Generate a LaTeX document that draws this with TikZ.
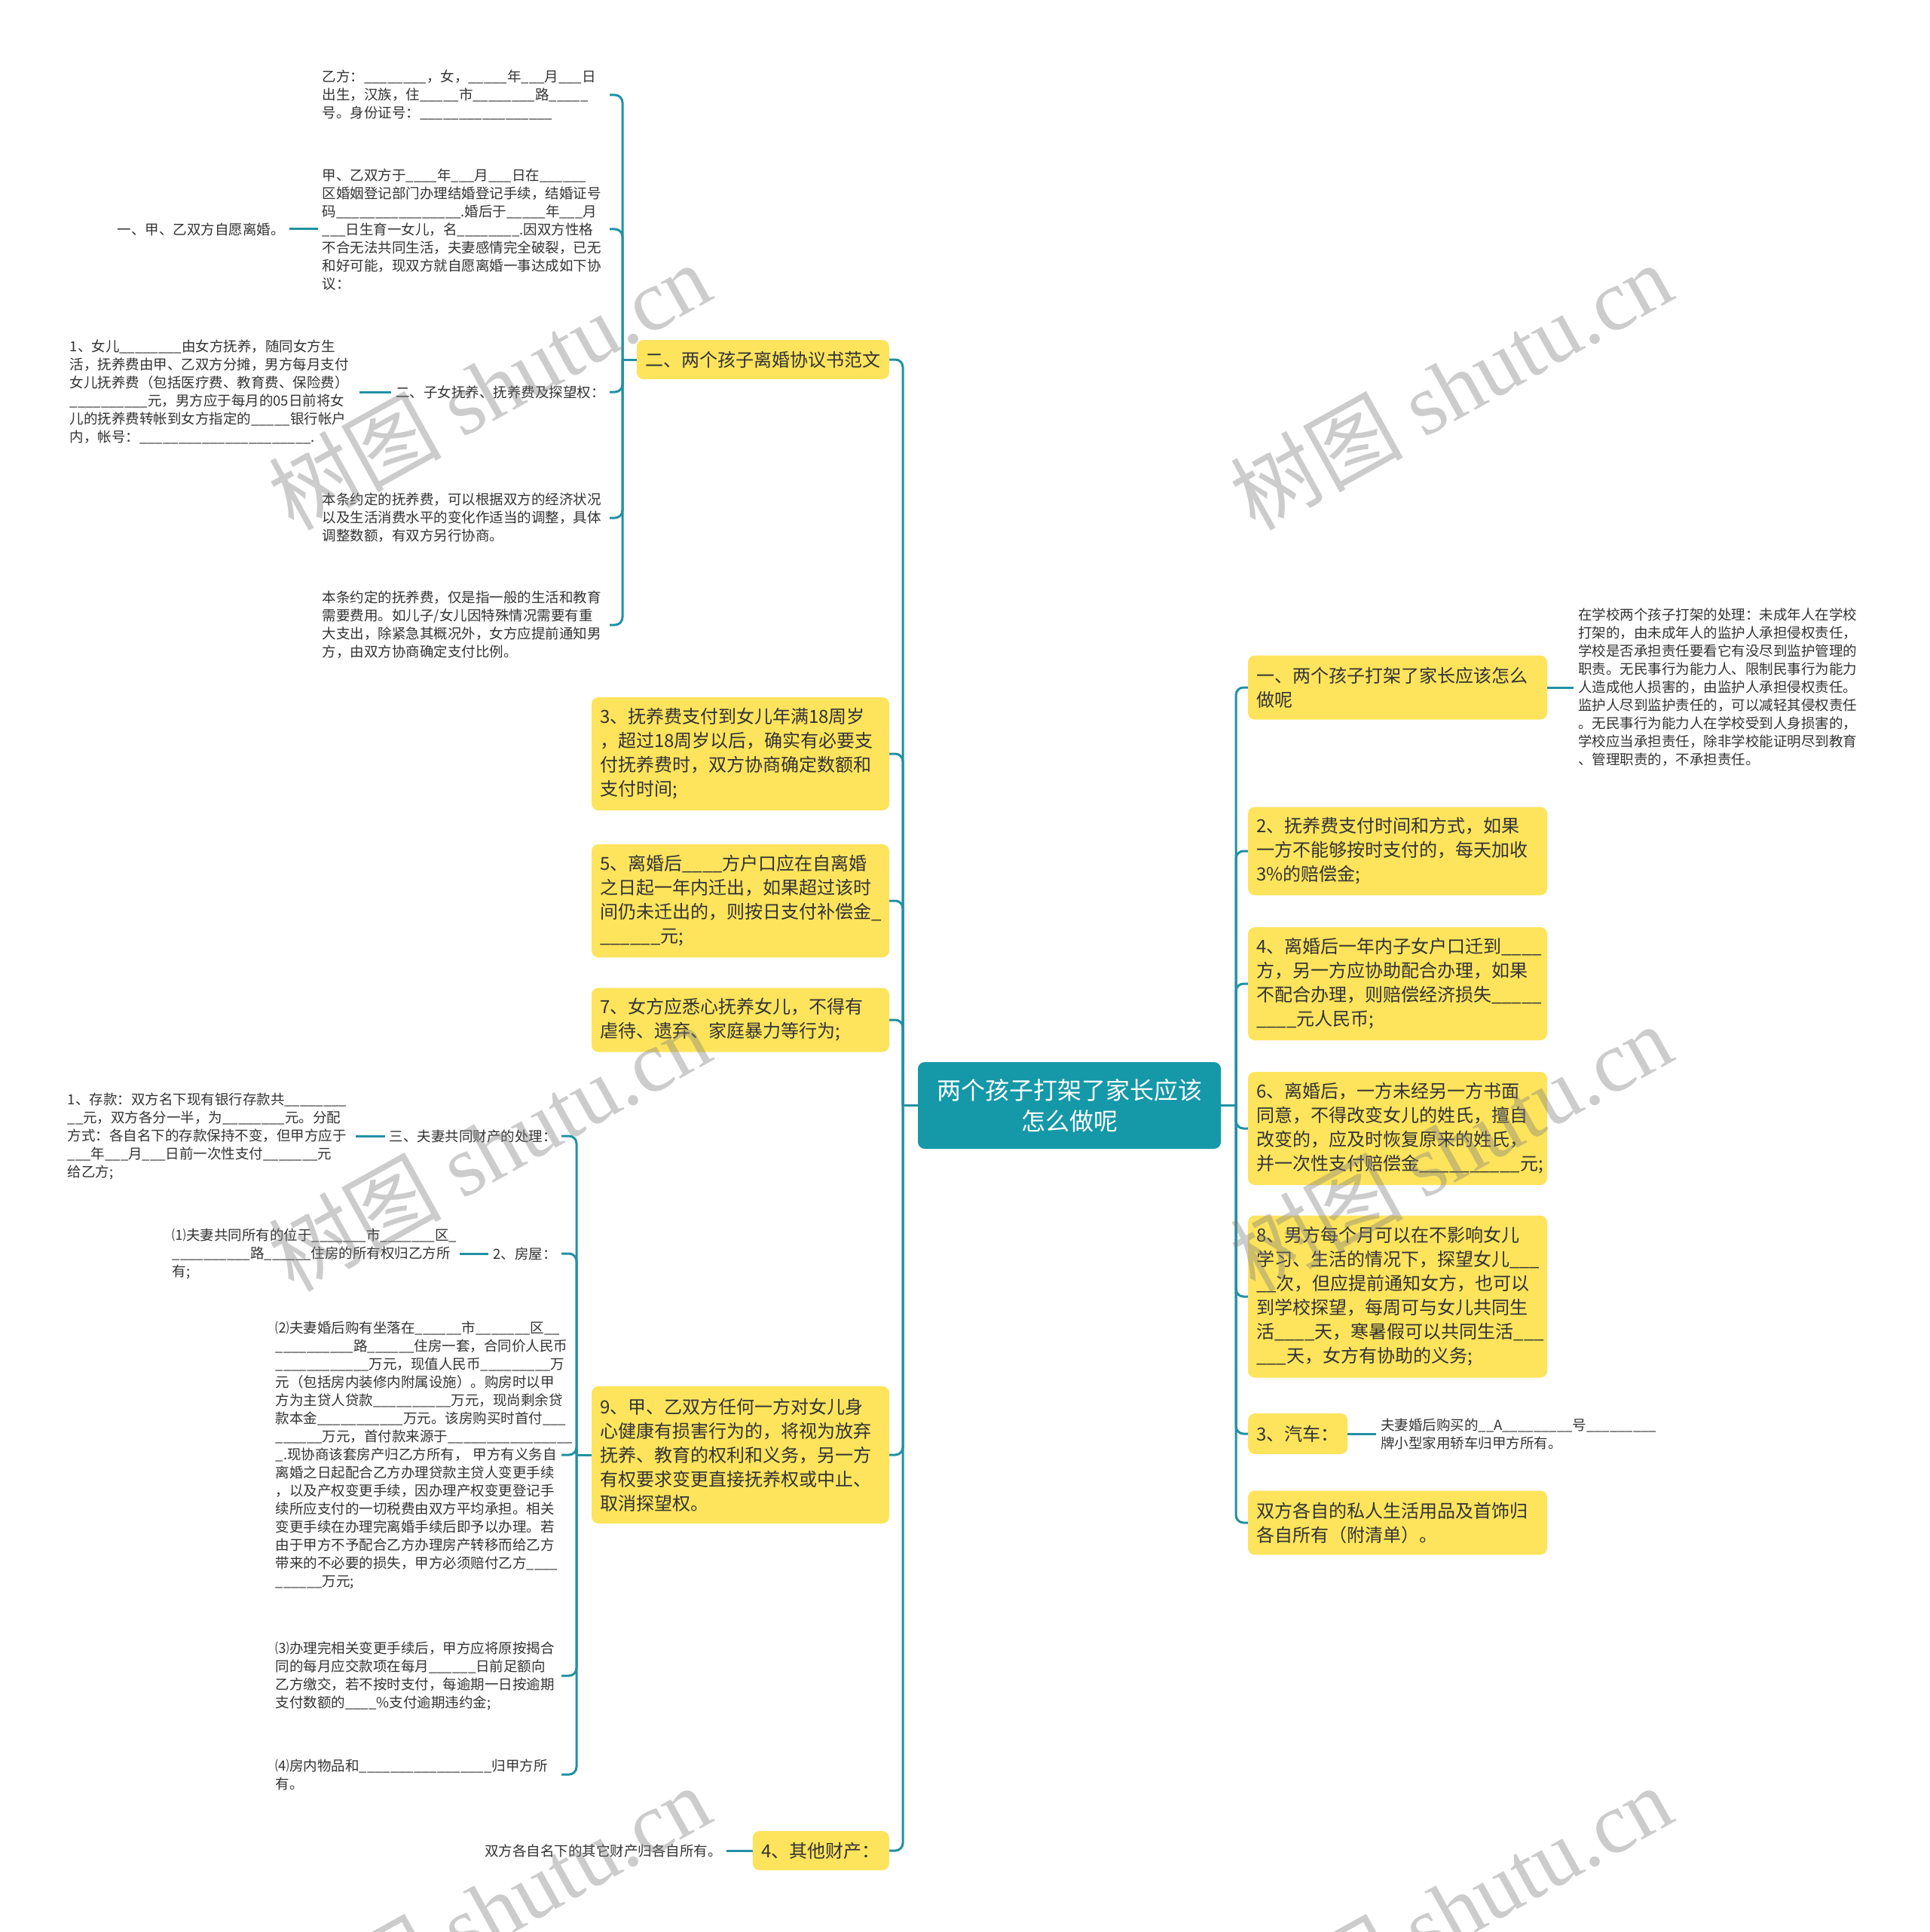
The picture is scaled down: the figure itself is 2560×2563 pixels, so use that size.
\documentclass[tikz,border=0pt]{standalone}
\usepackage{fontspec}
\setmainfont{Noto Sans CJK SC}
\newfontfamily\wmserif{Liberation Serif}
\usetikzlibrary{calc}
\definecolor{yel}{HTML}{FDE45C}
\definecolor{rootc}{HTML}{1598A8}
\definecolor{lnc}{HTML}{2291A3}
\definecolor{txt}{HTML}{333333}
\begin{document}
\catcode`\_=12
\begin{tikzpicture}[x=1pt,y=-1pt,
  conn/.style={draw=lnc, line width=3pt, rounded corners=10pt},
  stub/.style={draw=lnc, line width=3pt},
  ybox/.style={fill=yel, rounded corners=9pt, inner xsep=11pt, inner ysep=6pt, text=txt, font=\fontsize{24}{32}\selectfont},
  rootbox/.style={fill=rootc, rounded corners=9pt, text=white, font=\fontsize{32}{41}\selectfont, align=center, minimum width=402pt, minimum height=115pt},
  small/.style={font=\fontsize{18.5}{24}\selectfont, text=txt, inner xsep=6pt, inner ysep=3pt, align=left},
  wm/.style={text=gray, opacity=0.4, rotate=29, font=\fontsize{115}{120}\selectfont}
]
\fill[white] (0,0) rectangle (2560,2563);
\useasboundingbox (0,0) rectangle (2560,2563);

% root
\node[rootbox] (root) at (1419,1466.5) {两个孩子打架了家长应该\\怎么做呢};

% right side
\node[ybox, text width=375pt, align=left, minimum height=85pt] (r1) at (1854.5,912) {一、两个孩子打架了家长应该怎么\\做呢};
\node[small, anchor=west, text width=375pt] (r1c) at (2088,912) {在学校两个孩子打架的处理：未成年人在学校\\打架的，由未成年人的监护人承担侵权责任，\\学校是否承担责任要看它有没尽到监护管理的\\职责。无民事行为能力人、限制民事行为能力\\人造成他人损害的，由监护人承担侵权责任。\\监护人尽到监护责任的，可以减轻其侵权责任\\。无民事行为能力人在学校受到人身损害的，\\学校应当承担责任，除非学校能证明尽到教育\\、管理职责的，不承担责任。};
\node[ybox, text width=375pt, align=left, minimum height=117pt] (r2) at (1854.5,1129) {2、抚养费支付时间和方式，如果\\一方不能够按时支付的，每天加收\\3\%的赔偿金;};
\node[ybox, text width=375pt, align=left, minimum height=150pt] (r3) at (1854.5,1305) {4、离婚后一年内子女户口迁到____\\方，另一方应协助配合办理，如果\\不配合办理，则赔偿经济损失_____\\____元人民币;};
\node[ybox, text width=375pt, align=left, minimum height=150pt] (r4) at (1854.5,1497) {6、离婚后，一方未经另一方书面\\同意，不得改变女儿的姓氏，擅自\\改变的，应及时恢复原来的姓氏，\\并一次性支付赔偿金__________元;};
\node[ybox, text width=375pt, align=left, minimum height=215pt] (r5) at (1854.5,1720) {8、男方每个月可以在不影响女儿\\学习、生活的情况下，探望女儿___\\__次，但应提前通知女方，也可以\\到学校探望，每周可与女儿共同生\\活____天，寒暑假可以共同生活___\\___天，女方有协助的义务;};
\node[ybox, anchor=west, text width=110pt, align=left, minimum height=54pt] (r6) at (1656,1902) {3、汽车：};
\node[small, anchor=west] (r6c) at (1826,1902) {夫妻婚后购买的__A_________号_________\\牌小型家用轿车归甲方所有。};
\node[ybox, text width=375pt, align=left, minimum height=85pt] (r7) at (1854.5,2020) {双方各自的私人生活用品及首饰归\\各自所有（附清单）。};

% left side boxes
\node[ybox, anchor=east, text width=313pt, align=center, minimum height=52pt] (l1) at (1180,477) {二、两个孩子离婚协议书范文};
\node[ybox, text width=373pt, align=left, minimum height=150pt] (l2) at (982.5,1000) {3、抚养费支付到女儿年满18周岁\\，超过18周岁以后，确实有必要支\\付抚养费时，双方协商确定数额和\\支付时间;};
\node[ybox, text width=373pt, align=left, minimum height=150pt] (l3) at (982.5,1195) {5、离婚后____方户口应在自离婚\\之日起一年内迁出，如果超过该时\\间仍未迁出的，则按日支付补偿金_\\______元;};
\node[ybox, text width=373pt, align=left, minimum height=85pt] (l4) at (982.5,1353) {7、女方应悉心抚养女儿，不得有\\虐待、遗弃、家庭暴力等行为;};
\node[ybox, text width=373pt, align=left, minimum height=182pt] (l5) at (982.5,1930) {9、甲、乙双方任何一方对女儿身\\心健康有损害行为的，将视为放弃\\抚养、教育的权利和义务，另一方\\有权要求变更直接抚养权或中止、\\取消探望权。};
\node[ybox, anchor=east, text width=159pt, align=center, minimum height=52pt] (l6) at (1180,2455) {4、其他财产：};

% children of l1
\node[small, anchor=east, text width=375pt] (c1) at (809,126) {乙方：________，女，_____年___月___日\\出生，汉族，住_____市________路_____\\号。身份证号：_________________};
\node[small, anchor=east, text width=375pt] (c2) at (809,304) {甲、乙双方于____年___月___日在______\\区婚姻登记部门办理结婚登记手续，结婚证号\\码________________.婚后于_____年___月\\___日生育一女儿，名________.因双方性格\\不合无法共同生活，夫妻感情完全破裂，已无\\和好可能，现双方就自愿离婚一事达成如下协\\议：};
\node[small, anchor=east] (g1) at (384,304) {一、甲、乙双方自愿离婚。};
\node[small, anchor=east] (c3) at (809,520) {二、子女抚养、抚养费及探望权：};
\node[small, anchor=east, text width=378pt] (g2) at (477,520) {1、女儿________由女方抚养，随同女方生\\活，抚养费由甲、乙双方分摊，男方每月支付\\女儿抚养费（包括医疗费、教育费、保险费）\\__________元，男方应于每月的05日前将女\\儿的抚养费转帐到女方指定的_____银行帐户\\内，帐号：______________________.};
\node[small, anchor=east, text width=375pt] (c4) at (809,687) {本条约定的抚养费，可以根据双方的经济状况\\以及生活消费水平的变化作适当的调整，具体\\调整数额，有双方另行协商。};
\node[small, anchor=east, text width=375pt] (c5) at (809,829) {本条约定的抚养费，仅是指一般的生活和教育\\需要费用。如儿子/女儿因特殊情况需要有重\\大支出，除紧急其概况外，女方应提前通知男\\方，由双方协商确定支付比例。};

% children of l5
\node[small, anchor=east] (d1) at (745,1507) {三、夫妻共同财产的处理：};
\node[small, anchor=east, text width=376pt] (e1) at (472,1507) {1、存款：双方名下现有银行存款共________\\__元，双方各分一半，为________元。分配\\方式：各自名下的存款保持不变，但甲方应于\\___年___月___日前一次性支付_______元\\给乙方;};
\node[small, anchor=east] (d2) at (745,1663) {2、房屋：};
\node[small, anchor=east, text width=375pt] (e2) at (610,1663) {⑴夫妻共同所有的位于_______市_______区_\\__________路______住房的所有权归乙方所\\有;};
\node[small, anchor=east, text width=373pt] (d3) at (745,1930) {⑵夫妻婚后购有坐落在______市_______区__\\__________路______住房一套，合同价人民币\\____________万元，现值人民币_________万\\元（包括房内装修内附属设施）。购房时以甲\\方为主贷人贷款__________万元，现尚剩余贷\\款本金___________万元。该房购买时首付___\\______万元，首付款来源于________________\\_.现协商该套房产归乙方所有，~甲方有义务自\\离婚之日起配合乙方办理贷款主贷人变更手续\\，以及产权变更手续，因办理产权变更登记手\\续所应支付的一切税费由双方平均承担。相关\\变更手续在办理完离婚手续后即予以办理。若\\由于甲方不予配合乙方办理房产转移而给乙方\\带来的不必要的损失，甲方必须赔付乙方____\\______万元;};
\node[small, anchor=east, text width=373pt] (d4) at (745,2223) {⑶办理完相关变更手续后，甲方应将原按揭合\\同的每月应交款项在每月______日前足额向\\乙方缴交，若不按时支付，每逾期一日按逾期\\支付数额的____\%支付逾期违约金;};
\node[small, anchor=east, text width=373pt] (d5) at (745,2354) {⑷房内物品和_________________归甲方所\\有。};

% child of l6
\node[small, anchor=east] (f1) at (964,2455) {双方各自名下的其它财产归各自所有。};

% junctions
\coordinate (rj) at (1640,1466.5);
\coordinate (lj) at (1198,1466.5);
\coordinate (j1) at (826,477);
\coordinate (j5) at (765,1930);

% connectors
\draw[stub] (root.east) -- (rj);
\foreach \n in {r1,r2,r3,r4,r5,r6,r7} \draw[conn] (rj) |- (\n.west);
\draw[stub] (root.west) -- (lj);
\foreach \n in {l1,l2,l3,l4,l5,l6} \draw[conn] (lj) |- (\n.east);
\draw[stub] (l1.west) -- (j1);
\foreach \n in {c1,c2,c3,c4,c5} \draw[conn] (j1) |- (\n.east);
\draw[stub] (c2.west) -- (g1.east);
\draw[stub] (c3.west) -- (g2.east);
\draw[stub] (l5.west) -- (j5);
\foreach \n in {d1,d2,d3,d4,d5} \draw[conn] (j5) |- (\n.east);
\draw[stub] (d1.west) -- (e1.east);
\draw[stub] (d2.west) -- (e2.east);
\draw[stub] (l6.west) -- (f1.east);
\draw[stub] (r1.east) -- (r1c.west);
\draw[stub] (r6.east) -- (r6c.west);

% watermarks
\foreach \wx/\wy/\wn in {649/512/wa,1925/512/wb,649/1522/wc,1925/1522/wd,649/2532/we,1925/2532/wf}
  \node[wm] (\wn) at (\wx,\wy) {树图 {\wmserif shutu.cn}};
\end{tikzpicture}
\end{document}
